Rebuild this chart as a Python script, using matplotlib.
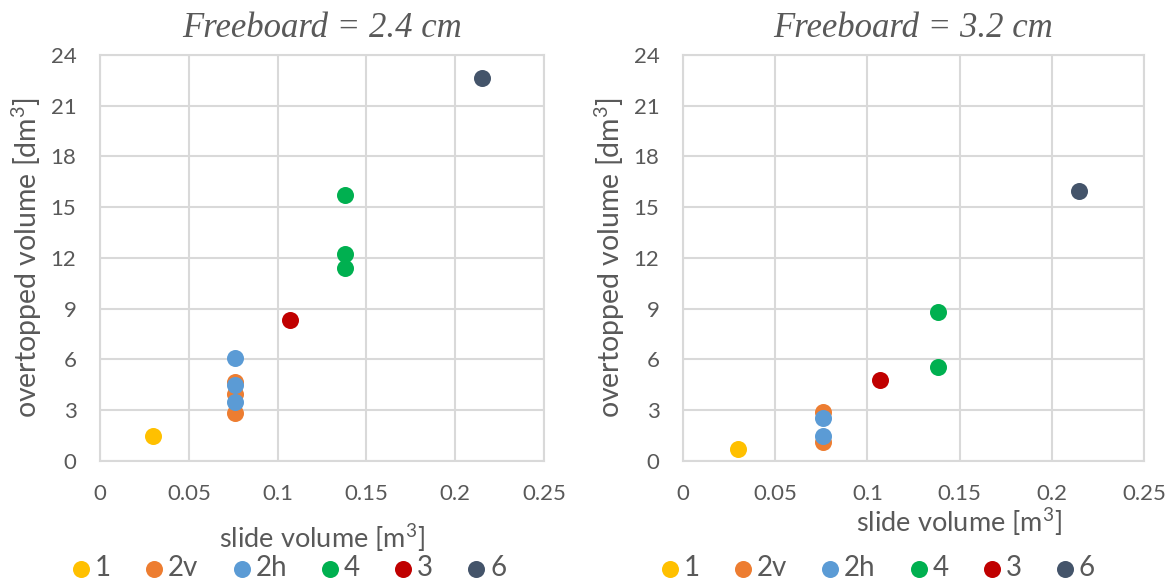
import matplotlib
matplotlib.use('Agg')
import matplotlib.pyplot as plt

# series names and colours (legend order)
groups = ['1', '2v', '2h', '4', '3', '6']
colors = ['#FFC000', '#ED7D31', '#5B9BD5', '#00B050', '#C00000', '#44546A']

# freeboard 2.4 cm
fb24_x = {'1': [0.030], '2v': [0.076, 0.076, 0.076], '2h': [0.076, 0.076, 0.076],
          '4': [0.138, 0.138, 0.138], '3': [0.107], '6': [0.215]}
fb24_y = {'1': [1.45], '2v': [4.63, 3.95, 2.8], '2h': [6.05, 4.48, 3.5],
          '4': [15.7, 12.2, 11.4], '3': [8.32], '6': [22.65]}

# freeboard 3.2 cm
fb32_x = {'1': [0.030], '2v': [0.076, 0.076], '2h': [0.076, 0.076],
          '4': [0.138, 0.138], '3': [0.107], '6': [0.215]}
fb32_y = {'1': [0.68], '2v': [2.86, 1.1], '2h': [2.55, 1.48],
          '4': [8.8, 5.52], '3': [4.75], '6': [15.97]}

panels = [('Freeboard = 2.4 cm', fb24_x, fb24_y), ('Freeboard = 3.2 cm', fb32_x, fb32_y)]

plt.rcParams['font.family'] = ['Lato', 'DejaVu Sans']
fig = plt.figure(figsize=(11.73, 5.83), dpi=100)
rects = [[0.0853, 0.2096, 0.3785, 0.6963], [0.5823, 0.2096, 0.3930, 0.6963]]
xlabpad = [12, 1]
xlabx = [0.5, 0.598]
legx = [0.422, 0.419]

for i, (title, xs, ys) in enumerate(panels):
    ax = fig.add_axes(rects[i])
    for g, c in zip(groups, colors):
        ax.scatter(xs[g], ys[g], s=150, color=c, label=g, zorder=3, linewidths=0)
    ax.set_xlim(0, 0.25)
    ax.set_ylim(0, 24)
    ax.set_xticks([0, 0.05, 0.1, 0.15, 0.2, 0.25])
    ax.set_xticklabels(['0', '0.05', '0.1', '0.15', '0.2', '0.25'])
    ax.set_yticks(range(0, 25, 3))
    ax.tick_params(length=0, labelsize=16, colors='#595959')
    ax.tick_params(axis='x', pad=17)
    ax.tick_params(axis='y', pad=17)
    ax.grid(True, color='#d9d9d9', linewidth=1.5, zorder=0)
    ax.set_axisbelow(True)
    for sp in ax.spines.values():
        sp.set_color('#d9d9d9')
        sp.set_linewidth(1.5)
    ax.set_title(title, fontsize=25, family='Liberation Serif', style='italic',
                 color='#595959', pad=13)
    ax.set_ylabel('overtopped volume [dm$^\\mathregular{3}$]', fontsize=20.5,
                  color='#595959', labelpad=5)
    ax.set_xlabel('slide volume [m$^\\mathregular{3}$]', fontsize=19.5, color='#595959',
                  labelpad=xlabpad[i], x=xlabx[i])
    ax.legend(loc='center', bbox_to_anchor=(legx[i], -0.2645), ncol=6, frameon=False,
              fontsize=20, handletextpad=0.05, handlelength=0.9, columnspacing=1.1,
              labelcolor='#595959', borderpad=0)

fig.savefig('out.png', dpi=100)
